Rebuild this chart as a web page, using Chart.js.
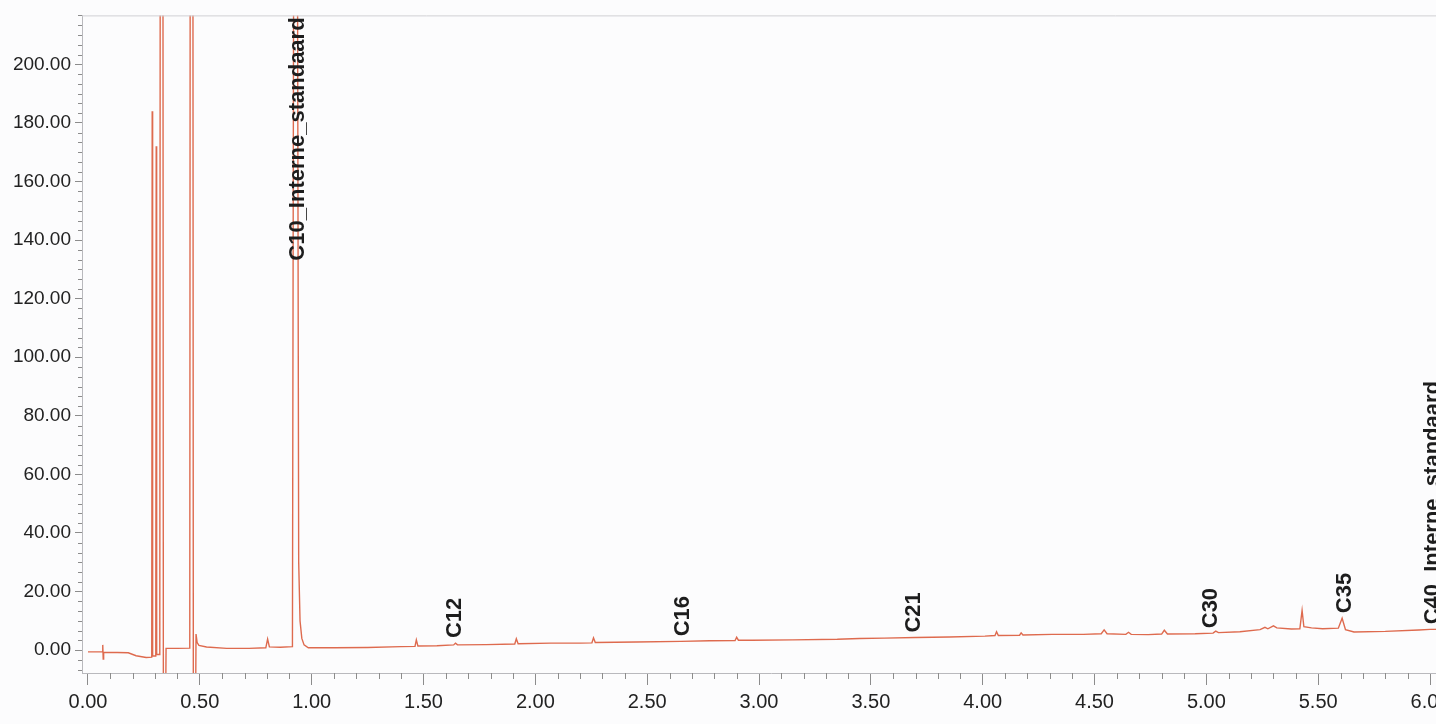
<!DOCTYPE html>
<html>
<head>
<meta charset="utf-8">
<script src="https://cdn.jsdelivr.net/npm/chart.js@4/dist/chart.umd.min.js"></script>
<style>
    html, body { margin: 0; padding: 0; background: #fcfcfd; overflow: hidden; }
    #wrap { position: relative; width: 1460px; height: 724px; }
</style>
</head>
<body>
<div id="wrap"><canvas id="chroma"></canvas></div>
<script>
// retention time (min) and detector signal
var retentionTimes = [
    0.000, 0.040, 0.064, 0.066, 0.068, 0.070, 0.130, 0.180, 0.215, 0.260,
    0.285, 0.287, 0.289, 0.303, 0.305, 0.307, 0.321, 0.323, 0.335, 0.337,
    0.347, 0.349, 0.400, 0.455, 0.457, 0.469, 0.471, 0.481, 0.483, 0.488,
    0.496, 0.530, 0.620, 0.720, 0.795, 0.803, 0.811, 0.860, 0.914, 0.920,
    0.936, 0.942, 0.948, 0.956, 0.966, 0.985, 1.100, 1.250, 1.400, 1.462,
    1.468, 1.475, 1.560, 1.635, 1.643, 1.652, 1.780, 1.908, 1.915, 1.923,
    2.070, 2.200, 2.253, 2.260, 2.268, 2.450, 2.650, 2.780, 2.893, 2.900,
    2.908, 2.970, 3.150, 3.350, 3.450, 3.560, 3.700, 3.850, 4.010, 4.055,
    4.062, 4.070, 4.165, 4.172, 4.180, 4.310, 4.450, 4.530, 4.543, 4.556,
    4.640, 4.652, 4.664, 4.740, 4.800, 4.812, 4.826, 4.950, 5.030, 5.042,
    5.054, 5.150, 5.240, 5.262, 5.275, 5.300, 5.315, 5.380, 5.418, 5.428,
    5.436, 5.470, 5.520, 5.590, 5.607, 5.622, 5.660, 5.800, 5.950, 6.000,
    6.150
];
var signalValues = [
    -0.6, -0.6, -0.6, 1.8, -3.0, -0.7, -0.8, -0.9, -1.9, -2.5,
    -2.4, 184, -2.0, -2.0, 172, -1.5, -1.5, 260, 260, -20,
    -20, 0.6, 0.6, 0.7, 260, 260, -20, -20, 5.5, 2.6,
    1.6, 1.1, 0.6, 0.6, 0.8, 3.8, 1.1, 1.0, 1.2, 260,
    260, 30, 10, 4, 1.8, 0.8, 0.8, 0.9, 1.2, 1.3,
    3.5, 1.4, 1.5, 1.8, 2.4, 1.8, 1.9, 2.1, 3.9, 2.2,
    2.4, 2.4, 2.5, 4.2, 2.6, 2.8, 3.0, 3.2, 3.3, 4.4,
    3.4, 3.4, 3.5, 3.7, 4.0, 4.1, 4.3, 4.5, 4.8, 5.0,
    6.3, 5.0, 5.1, 5.9, 5.2, 5.4, 5.4, 5.6, 6.9, 5.6,
    5.4, 6.1, 5.4, 5.3, 5.5, 6.8, 5.5, 5.6, 5.8, 6.5,
    6.0, 6.3, 7.0, 7.8, 7.3, 8.3, 7.6, 7.2, 7.3, 13.6,
    8.0, 7.6, 7.3, 7.5, 10.9, 7.0, 6.2, 6.4, 6.9, 7.1,
    7.2
];

// peak annotations
var peakNames = ['C10_Interne_standaard', 'C12', 'C16', 'C21', 'C30', 'C35', 'C40_Interne_standaard'];
var peakTimes = [0.933, 1.637, 2.655, 3.686, 5.018, 5.614, 6.010];

// tick labels
var xTicks = [0, 0.5, 1, 1.5, 2, 2.5, 3, 3.5, 4, 4.5, 5, 5.5, 6];
var yTicks = [0, 20, 40, 60, 80, 100, 120, 140, 160, 180, 200];

var points = [];
for (var i = 0; i < retentionTimes.length; i++) {
    points.push({ x: retentionTimes[i], y: signalValues[i] });
}

// signal at time t: linear between samples, or the highest sample close by
function signalAt(t) {
    var best = -Infinity;
    for (var j = 0; j < retentionTimes.length - 1; j++) {
        var a = retentionTimes[j], b = retentionTimes[j + 1];
        if (t >= a && t <= b) {
            var f = (t - a) / (b - a);
            best = Math.max(best, signalValues[j] + f * (signalValues[j + 1] - signalValues[j]));
        }
        if (Math.abs(a - t) <= 0.012) best = Math.max(best, signalValues[j]);
    }
    return best;
}

// small ticks between the labelled ones + thin frame at the top
var minorTicks = {
    id: 'minorTicks',
    afterDraw: function(chart) {
        var ctx = chart.ctx, area = chart.chartArea;
        var xs = chart.scales.x, ys = chart.scales.y;
        ctx.save();
        ctx.strokeStyle = '#8c8c8c';
        ctx.lineWidth = 1;
        ctx.beginPath();
        for (var k = 1; k <= 61; k++) {
            if (k % 5 === 0) continue;
            var px = Math.round(xs.getPixelForValue(k / 10)) + 0.5;
            ctx.moveTo(px, area.bottom);
            ctx.lineTo(px, area.bottom + 6);
        }
        for (var m = -2; m <= 66; m++) {
            if (m % 6 === 0) continue;
            var py = Math.round(ys.getPixelForValue(m * 20 / 6)) + 0.5;
            if (py < area.top || py > area.bottom) continue;
            ctx.moveTo(area.left - 4, py);
            ctx.lineTo(area.left, py);
        }
        ctx.stroke();
        ctx.strokeStyle = '#d0d0d4';
        ctx.beginPath();
        ctx.moveTo(area.left, area.top + 0.5);
        ctx.lineTo(area.right, area.top + 0.5);
        ctx.stroke();
        ctx.restore();
    }
};

// vertical peak names, sitting just above the trace
var peakLabels = {
    id: 'peakLabels',
    afterDatasetsDraw: function(chart) {
        var ctx = chart.ctx, area = chart.chartArea;
        var xs = chart.scales.x, ys = chart.scales.y;
        ctx.save();
        ctx.font = 'bold 22px "Liberation Sans", Arial, sans-serif';
        ctx.fillStyle = '#1d1d1d';
        ctx.textAlign = 'left';
        ctx.textBaseline = 'middle';
        for (var p = 0; p < peakNames.length; p++) {
            var t = peakTimes[p];
            var w = ctx.measureText(peakNames[p]).width;
            var yb = Math.min(ys.getPixelForValue(signalAt(t)), area.bottom) - 5;
            if (yb - w < area.top + 2) yb = area.top + 2 + w;
            ctx.save();
            ctx.translate(xs.getPixelForValue(t), yb);
            ctx.rotate(-Math.PI / 2);
            ctx.fillText(peakNames[p], 0, 1);
            ctx.restore();
        }
        ctx.restore();
    }
};

var myChart = new Chart(document.getElementById('chroma'), {
    type: 'line',
    data: {
        datasets: [{
            data: points,
            borderColor: '#de6a4e',
            borderWidth: 1.4,
            pointRadius: 0,
            tension: 0,
            fill: false
        }]
    },
    options: {
        responsive: true,
        maintainAspectRatio: false,
        animation: false,
        layout: { padding: { top: 13, left: 0, right: 0, bottom: 0 } },
        plugins: { legend: { display: false }, tooltip: { enabled: false } },
        scales: {
            x: {
                type: 'linear',
                min: -0.0268,
                max: 6.134,
                afterBuildTicks: function(scale) {
                    scale.ticks = xTicks.map(function(v) { return { value: v }; });
                },
                afterFit: function(scale) { scale.height = 51; },
                grid: { drawOnChartArea: false, drawTicks: true, tickLength: 12, color: '#8c8c8c' },
                border: { display: true, color: '#b9b9bd', width: 1 },
                ticks: {
                    color: '#222',
                    font: { family: '"Liberation Sans", Arial, sans-serif', size: 20 },
                    padding: 5,
                    maxRotation: 0,
                    autoSkip: false,
                    callback: function(v) { return Number(v).toFixed(2); }
                }
            },
            y: {
                min: -7.8,
                max: 216.7,
                afterBuildTicks: function(scale) {
                    scale.ticks = yTicks.map(function(v) { return { value: v }; });
                },
                afterFit: function(scale) { scale.width = 82; },
                grid: { drawOnChartArea: false, drawTicks: true, tickLength: 7, color: '#8c8c8c' },
                border: { display: true, color: '#b9b9bd', width: 1 },
                ticks: {
                    color: '#222',
                    font: { family: '"Liberation Sans", Arial, sans-serif', size: 19 },
                    padding: 4,
                    autoSkip: false,
                    callback: function(v) { return Number(v).toFixed(2); }
                }
            }
        }
    },
    plugins: [minorTicks, peakLabels]
});
</script>
</body>
</html>
